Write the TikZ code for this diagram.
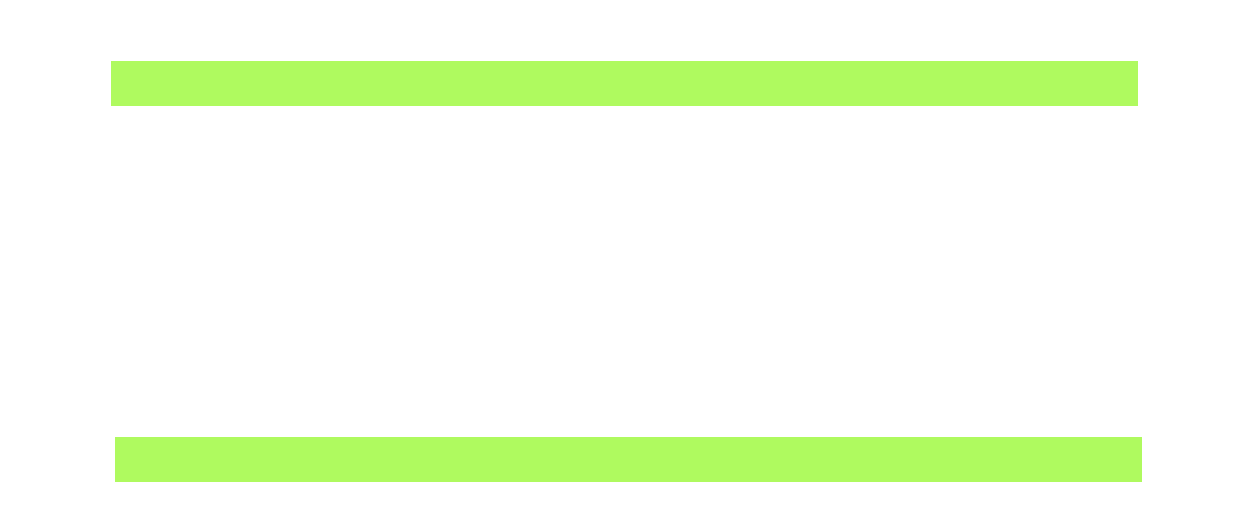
\documentclass[tikz,border=0pt]{standalone}
\definecolor{bargreen}{RGB}{175,250,95}
\begin{document}
\begin{tikzpicture}[x=1pt,y=-1pt,
  bar/.style={fill=bargreen,draw=none,inner sep=0pt,outer sep=0pt,
    minimum width=1027pt,minimum height=45pt,rectangle}]
\useasboundingbox[fill=white] (0,0) rectangle (1238,530);
\node[bar] (top) at (624.5,83.5) {};
\node[bar] (bottom) at (628.5,459.5) {};
\end{tikzpicture}
\end{document}
